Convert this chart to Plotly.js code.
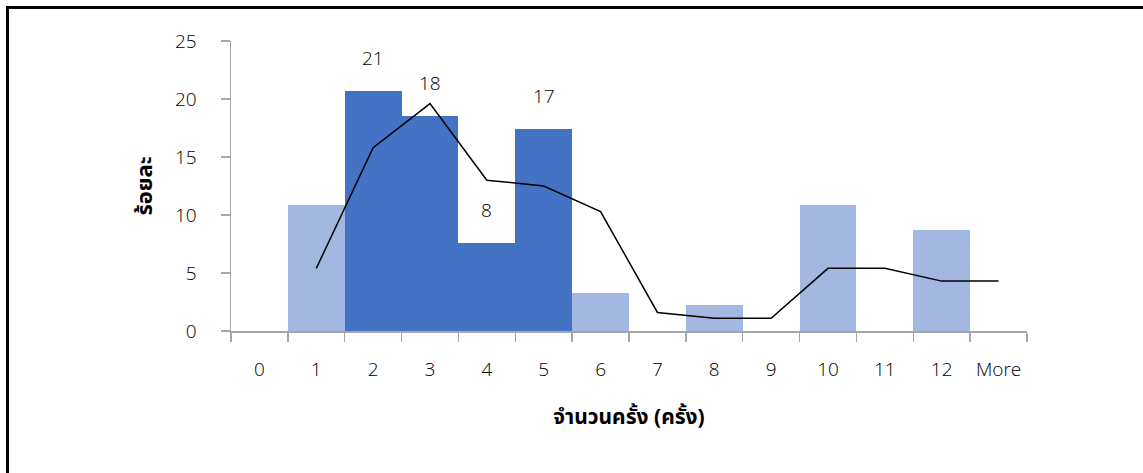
<!DOCTYPE html>
<html>
<head>
<meta charset="utf-8">
<script src="https://cdn.plot.ly/plotly-3.0.1.min.js"></script>
<style>
  html, body { margin: 0; padding: 0; background: #fff; }
  #wrap { position: relative; width: 1143px; height: 473px; }
  #chart { position: absolute; left: 0; top: 0; width: 1143px; height: 473px; }
  #frame { position: absolute; left: 6px; top: 6px; width: 1137px; height: 467px;
           border-top: 3px solid #000; border-left: 3px solid #000; box-sizing: border-box; pointer-events: none; }
</style>
</head>
<body>
<div id="wrap">
  <div id="chart"></div>
  <div id="frame"></div>
</div>
<script>
const categories = ["0", "1", "2", "3", "4", "5", "6", "7", "8", "9", "10", "11", "12", "More"];
const percentValues = [0, 10.9, 20.7, 18.5, 7.6, 17.4, 3.3, 0, 2.2, 0, 10.9, 0, 8.7, 0];
const trendValues = [null, 5.4, 15.8, 19.6, 13.0, 12.5, 10.3, 1.6, 1.1, 1.1, 5.4, 5.4, 4.3, 4.3];
const highlighted = ["2", "3", "4", "5"];
const labelCategories = ["2", "3", "4", "5"];
const labelTexts = ["21", "18", "8", "17"];

const darkBlue = "#4472C4";
const lightBlue = "#A2B8E0";
const barColors = categories.map(c => highlighted.includes(c) ? darkBlue : lightBlue);

const fontFam = "'Open Sans', 'Noto Sans', 'DejaVu Sans', sans-serif";
const thaiFam = "'Noto Sans Thai', 'Noto Sans', 'DejaVu Sans', sans-serif";

const traces = [
  {
    type: "bar",
    x: categories,
    y: percentValues,
    marker: { color: barColors, line: { width: 0 } },
    hoverinfo: "x+y",
    showlegend: false
  },
  {
    type: "scatter",
    mode: "lines",
    x: categories,
    y: trendValues,
    line: { color: "#000", width: 1.5 },
    connectgaps: false,
    showlegend: false
  }
];

const annotations = labelCategories.map((c, i) => ({
  x: c,
  y: percentValues[categories.indexOf(c)],
  xref: "x",
  yref: "y",
  text: labelTexts[i],
  showarrow: false,
  yanchor: "middle",
  yshift: 33,
  font: { family: fontFam, size: 19, color: "#000", weight: 300 }
}));

const layout = {
  width: 1143,
  height: 473,
  margin: { l: 231, r: 116, t: 41, b: 142 },
  paper_bgcolor: "#fff",
  plot_bgcolor: "#fff",
  bargap: 0,
  showlegend: false,
  font: { family: fontFam, size: 19, color: "#000" },
  xaxis: {
    type: "category",
    categoryorder: "array",
    categoryarray: categories,
    range: [-0.5, 13.5],
    tickson: "boundaries",
    ticks: "outside",
    ticklen: 9,
    tickcolor: "#a6a6a6",
    tickwidth: 1.5,
    showline: true,
    linecolor: "#a6a6a6",
    linewidth: 1.5,
    showgrid: false,
    zeroline: false,
    ticklabelstandoff: 21,
    tickfont: { family: fontFam, size: 19, color: "#000", weight: 300 },
    title: { text: "<b>จำนวนครั้ง (ครั้ง)</b>", font: { family: thaiFam, size: 21, color: "#000" }, standoff: 28 }
  },
  yaxis: {
    range: [0, 25],
    tickvals: [0, 5, 10, 15, 20, 25],
    ticks: "outside",
    ticklen: 9,
    tickcolor: "#a6a6a6",
    tickwidth: 1.5,
    showline: true,
    linecolor: "#a6a6a6",
    linewidth: 1.5,
    showgrid: false,
    zeroline: false,
    ticklabelstandoff: 20,
    tickfont: { family: fontFam, size: 19, color: "#000", weight: 300 },
    title: { text: "<b>ร้อยละ</b>", font: { family: thaiFam, size: 22, color: "#000" }, standoff: 16 }
  },
  annotations: annotations
};

Plotly.newPlot("chart", traces, layout, { displayModeBar: false, staticPlot: true });
</script>
</body>
</html>
